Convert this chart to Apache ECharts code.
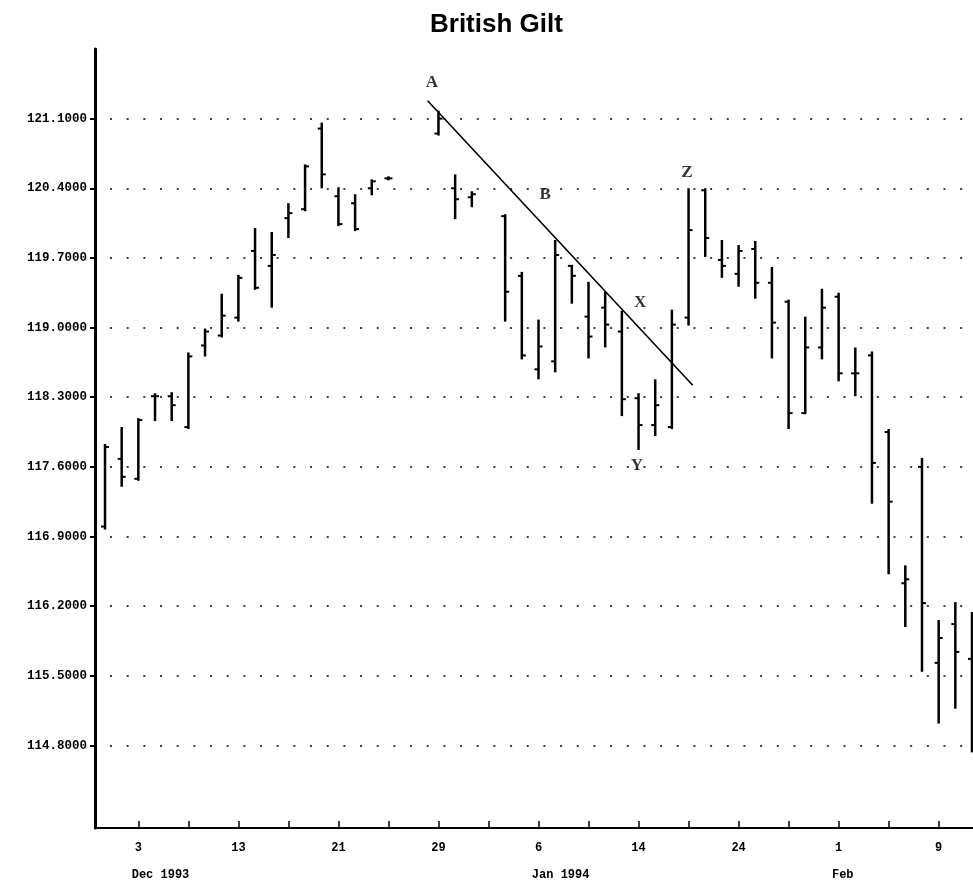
<!DOCTYPE html>
<html>
<head>
<meta charset="utf-8">
<title>British Gilt</title>
<script src="https://cdn.jsdelivr.net/npm/echarts@6/dist/echarts.min.js"></script>
<style>
  html, body { margin: 0; padding: 0; background: #fff; }
  #chart { width: 973px; height: 888px; }
</style>
</head>
<body>
<div id="chart"></div>
<script>
// one slot per weekday, holidays kept as empty slots
const tradingDays = [
  '1993-12-01', '1993-12-02', '1993-12-03', '1993-12-06', '1993-12-07', '1993-12-08',
  '1993-12-09', '1993-12-10', '1993-12-13', '1993-12-14', '1993-12-15', '1993-12-16',
  '1993-12-17', '1993-12-20', '1993-12-21', '1993-12-22', '1993-12-23', '1993-12-24',
  '1993-12-27', '1993-12-28', '1993-12-29', '1993-12-30', '1993-12-31', '1994-01-03',
  '1994-01-04', '1994-01-05', '1994-01-06', '1994-01-07', '1994-01-10', '1994-01-11',
  '1994-01-12', '1994-01-13', '1994-01-14', '1994-01-17', '1994-01-18', '1994-01-19',
  '1994-01-20', '1994-01-21', '1994-01-24', '1994-01-25', '1994-01-26', '1994-01-27',
  '1994-01-28', '1994-01-31', '1994-02-01', '1994-02-02', '1994-02-03', '1994-02-04',
  '1994-02-07', '1994-02-08', '1994-02-09', '1994-02-10', '1994-02-11'
];

const openPx = [
  117.00, 117.68, 117.48, 118.31, 118.31, 118.00, 118.82, 118.92, 119.10, 119.77, 119.62, 120.10,
  120.19, 121.00, 120.32, 120.25, 120.40, 120.50, null, null, 120.95, 120.40, 120.31, null,
  120.12, 119.52, 118.58, 118.66, 119.62, 119.11, 119.20, 118.96, 118.29, 118.02, 118.00, 119.10,
  120.38, 119.68, 119.54, 119.79, 119.45, 119.26, 118.14, 118.80, 119.31, 118.54, 118.72, 117.95,
  116.43, 117.60, 115.63, 116.02, 115.67
];
const highPx = [
  117.82, 117.99, 118.08, 118.33, 118.34, 118.74, 118.98, 119.33, 119.52, 119.99, 119.95, 120.24,
  120.63, 121.05, 120.40, 120.33, 120.48, 120.51, null, null, 121.17, 120.53, 120.36, null,
  120.13, 119.55, 119.07, 119.87, 119.62, 119.45, 119.35, 119.16, 118.33, 118.47, 119.17, 120.39,
  120.39, 119.87, 119.82, 119.86, 119.60, 119.27, 119.10, 119.38, 119.34, 118.79, 118.75, 117.97,
  116.60, 117.68, 116.05, 116.23, 116.13
];
const lowPx = [
  116.98, 117.41, 117.47, 118.07, 118.07, 117.99, 118.72, 118.91, 119.07, 119.39, 119.21, 119.91,
  120.18, 120.41, 120.03, 119.98, 120.34, 120.49, null, null, 120.94, 120.10, 120.22, null,
  119.07, 118.69, 118.49, 118.56, 119.25, 118.70, 118.81, 118.12, 117.78, 117.92, 117.99, 119.03,
  119.72, 119.51, 119.42, 119.30, 118.70, 117.99, 118.14, 118.69, 118.47, 118.32, 117.24, 116.53,
  116.00, 115.55, 115.03, 115.18, 114.74
];
const closePx = [
  117.80, 117.50, 118.07, 118.31, 118.22, 118.71, 118.96, 119.12, 119.50, 119.40, 119.73, 120.15,
  120.62, 120.54, 120.04, 119.99, 120.47, 120.50, null, null, 121.10, 120.29, 120.34, null,
  119.36, 118.72, 118.81, 119.73, 119.52, 118.91, 119.03, 118.28, 118.02, 118.22, 119.03, 119.98,
  119.90, 119.62, 119.77, 119.45, 119.05, 118.14, 118.80, 119.20, 118.54, 118.54, 117.64, 117.25,
  116.47, 116.23, 115.88, 115.74, 115.95
];

const priceTicks = [114.8, 115.5, 116.2, 116.9, 117.6, 118.3, 119.0, 119.7, 120.4, 121.1];
const weekTickIdx = [2, 5, 8, 11, 14, 17, 20, 23, 26, 29, 32, 35, 38, 41, 44, 47, 50];
const dayLabelIdx = [2, 8, 14, 20, 26, 32, 38, 44, 50];
const monthLabelIdx = [2, 26, 44];
const monthLabels = ['Dec 1993', 'Jan 1994', 'Feb'];

// trend line A -> past X, in slot index / price
const trendLine = [[19.35, 121.28], [35.25, 118.42]];
const noteText = ['A', 'B', 'X', 'Y', 'Z'];
const noteIdx = [19.6, 26.4, 32.1, 31.9, 34.9];
const notePrice = [121.46, 120.34, 119.25, 117.61, 120.56];

const monoFont = '"Liberation Mono", "DejaVu Sans Mono", monospace';

const ohlcData = [];
tradingDays.forEach((d, i) => {
  if (openPx[i] != null) ohlcData.push([i, openPx[i], highPx[i], lowPx[i], closePx[i]]);
});
const noteData = noteText.map((t, i) => [noteIdx[i], notePrice[i], t]);
const monthShift = 0.4;

function renderOhlc(params, api) {
  const x = api.value(0);
  const o = api.coord([x, api.value(1)]);
  const h = api.coord([x, api.value(2)]);
  const l = api.coord([x, api.value(3)]);
  const c = api.coord([x, api.value(4)]);
  const tick = 4;
  const st = { stroke: '#000', lineWidth: 2 };
  return {
    type: 'group',
    children: [
      { type: 'line', shape: { x1: h[0], y1: h[1] - 1, x2: l[0], y2: l[1] + 1 }, style: { stroke: '#000', lineWidth: 2.5 } },
      { type: 'line', shape: { x1: o[0] - tick, y1: o[1], x2: o[0], y2: o[1] }, style: st },
      { type: 'line', shape: { x1: c[0], y1: c[1], x2: c[0] + tick, y2: c[1] }, style: st }
    ]
  };
}

const chart = echarts.init(document.getElementById('chart'));
chart.setOption({
  backgroundColor: '#fff',
  animation: false,
  title: {
    text: 'British Gilt',
    left: 425,
    top: 7,
    textStyle: { fontFamily: '"Liberation Sans", Arial, sans-serif', fontWeight: 'bold', fontSize: 26, color: '#000' }
  },
  grid: { left: 95, right: 0, top: 49, bottom: 60 },
  xAxis: [{
    type: 'value',
    min: -0.6,
    max: 52.06,
    axisLine: { show: true, onZero: false, lineStyle: { color: '#000', width: 2 } },
    axisTick: { show: true, inside: true, length: 7, customValues: weekTickIdx, lineStyle: { color: '#000', width: 1.5 } },
    axisLabel: {
      customValues: dayLabelIdx,
      margin: 14,
      formatter: v => String(parseInt(tradingDays[Math.round(v)].slice(8), 10)),
      fontFamily: monoFont, fontWeight: 'bold', fontSize: 12, color: '#000'
    },
    splitLine: { show: false }
  }, {
    type: 'value',
    position: 'bottom',
    min: -0.6,
    max: 52.06,
    axisLine: { show: false, onZero: false },
    axisTick: { show: false },
    axisLabel: {
      customValues: monthLabelIdx.map(i => i - monthShift),
      margin: 41,
      align: 'left',
      formatter: v => monthLabels[monthLabelIdx.indexOf(Math.round(v + monthShift))],
      fontFamily: monoFont, fontWeight: 'bold', fontSize: 12, color: '#000'
    },
    splitLine: { show: false }
  }],
  yAxis: {
    type: 'value',
    min: 113.97,
    max: 121.8,
    axisLine: { show: true, onZero: false, lineStyle: { color: '#000', width: 3 } },
    axisTick: { show: true, length: 5, customValues: priceTicks, lineStyle: { color: '#000', width: 2 } },
    axisLabel: {
      customValues: priceTicks,
      margin: 8,
      formatter: v => v.toFixed(4),
      fontFamily: monoFont, fontWeight: 'bold', fontSize: 12.5, color: '#000'
    },
    splitLine: { show: false }
  },
  series: [{
    type: 'line',
    data: trendLine,
    symbol: 'none',
    silent: true,
    lineStyle: { color: '#000', width: 1.6 },
    markLine: {
      silent: true,
      symbol: 'none',
      label: { show: false },
      lineStyle: { color: '#000', width: 1.5, type: [2, 14.67], dashOffset: 1.67 },
      data: priceTicks.map(v => ({ yAxis: v }))
    },
    z: 3
  }, {
    type: 'custom',
    renderItem: renderOhlc,
    encode: { x: 0, y: [1, 2, 3, 4] },
    data: ohlcData,
    z: 4
  }, {
    type: 'scatter',
    data: noteData,
    symbolSize: 0,
    silent: true,
    label: {
      show: true,
      position: 'inside',
      formatter: p => p.value[2],
      fontFamily: '"Liberation Serif", "DejaVu Serif", serif',
      fontWeight: 'bold',
      fontSize: 17,
      color: '#000'
    },
    z: 5
  }]
});
</script>
</body>
</html>
